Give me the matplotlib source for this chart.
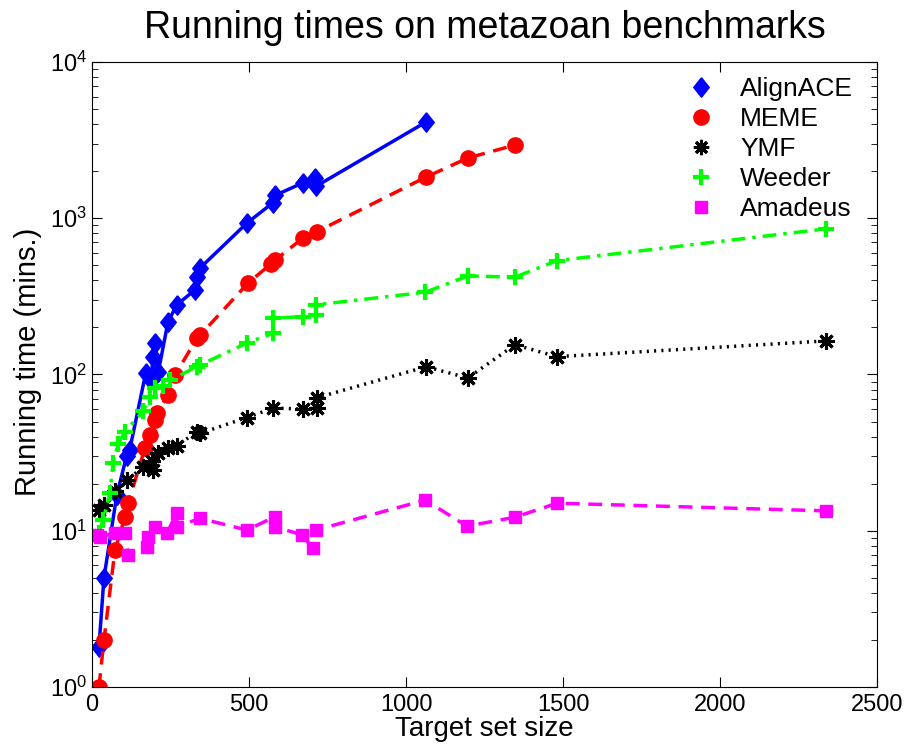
import matplotlib.pyplot as plt
from matplotlib.lines import Line2D

plt.rcParams['font.family'] = ['Liberation Sans', 'DejaVu Sans']

# AlignACE
x_align = [22, 38, 79, 110, 120, 171, 187, 195, 201, 211, 242, 270, 328, 334, 344,
           493, 577, 583, 673, 710, 713, 1064]
y_align = [1.8, 5.0, 17, 30, 33, 102, 92, 130, 158, 104, 217, 279, 348, 421, 480,
           930, 1260, 1400, 1690, 1800, 1600, 4130]

# MEME
x_meme = [22, 38, 73, 105, 115, 169, 185, 201, 207, 242, 264, 334, 344,
          497, 570, 583, 673, 716, 1064, 1197, 1347]
y_meme = [1.0, 2.0, 7.5, 12.3, 15, 34, 41, 51, 57, 74, 99, 170, 178,
          385, 510, 540, 750, 820, 1835, 2430, 2940]

# YMF
x_ymf = [22, 38, 73, 111, 162, 191, 195, 211, 242, 270, 334, 344, 493, 577,
         673, 716, 716, 1064, 1197, 1347, 1481, 2338]
y_ymf = [13.6, 14.6, 18, 21, 25.6, 28, 24.5, 31.5, 34, 35, 43, 42, 53, 61,
         60, 61, 71, 112, 95, 155, 130, 164]

# Weeder
x_weeder = [22, 35, 57, 67, 83, 105, 162, 185, 201, 226, 248, 334, 344, 493,
            577, 577, 673, 713, 713, 1061, 1197, 1347, 1481, 2338]
y_weeder = [9.7, 11.7, 17.5, 27, 36, 43, 58, 72, 82, 85, 92, 112, 115, 159,
            184, 230, 234, 240, 279, 336, 427, 420, 535, 855]

# Amadeus
x_amadeus = [16, 25, 73, 105, 115, 175, 178, 201, 239, 270, 270, 344, 493, 583,
             583, 669, 704, 713, 1061, 1194, 1347, 1481, 2338]
y_amadeus = [9.4, 9.1, 9.7, 9.7, 7.0, 7.9, 9.1, 10.6, 9.7, 13, 10.6, 12, 10.1, 12.3,
             10.6, 9.4, 7.7, 10.1, 15.7, 10.7, 12.2, 15, 13.4]

names = ['AlignACE', 'MEME', 'YMF', 'Weeder', 'Amadeus']

fig = plt.figure(figsize=(9.14, 7.54), dpi=100)
ax = fig.add_axes([0.1007, 0.0889, 0.8588, 0.8289])

lw = 2.5
star = (8, 2, 0)
diamond = [(0, 1), (0.8, 0), (0, -1), (-0.8, 0), (0, 1)]
ax.plot(x_align, y_align, color='#0000ff', linestyle='-', lw=lw,
        marker=diamond, markersize=14)
ax.plot(x_meme, y_meme, color='#ff0000', linestyle=(0, (4, 2.5)), lw=lw,
        marker='o', markersize=11)
ax.plot(x_ymf, y_ymf, color='black', linestyle=(0, (0.6, 1.5)), lw=lw,
        marker=star, markersize=12, markeredgewidth=2.2)
ax.plot(x_weeder, y_weeder, color='#00ff00', linestyle=(0, (4, 2, 1, 2)), lw=lw,
        marker='+', markersize=11, markeredgewidth=3)
ax.plot(x_amadeus, y_amadeus, color='#ff00ff', linestyle=(0, (4, 2.5)), lw=lw,
        marker='s', markersize=9)

ax.set_yscale('log')
ax.set_xlim(0, 2500)
ax.set_ylim(1, 1e4)
ax.set_xticks([0, 500, 1000, 1500, 2000, 2500])

ax.tick_params(which='both', direction='in', top=True, right=True, labelsize=17)
ax.tick_params(which='major', length=7)
ax.tick_params(which='minor', length=4)
ax.tick_params(axis='x', pad=5)

ax.set_title('Running times on metazoan benchmarks', fontsize=27, pad=17)
ax.set_xlabel('Target set size', fontsize=20, labelpad=0)
ax.set_ylabel('Running time (mins.)', fontsize=21, labelpad=2)
ax.yaxis.set_label_coords(-0.064, 0.52)

handles = [
    Line2D([], [], color='#0000ff', marker=diamond, linestyle='none', markersize=14),
    Line2D([], [], color='#ff0000', marker='o', linestyle='none', markersize=11),
    Line2D([], [], color='black', marker=star, linestyle='none', markersize=11,
           markeredgewidth=2.2),
    Line2D([], [], color='#00ff00', marker='+', linestyle='none', markersize=11,
           markeredgewidth=3),
    Line2D([], [], color='#ff00ff', marker='s', linestyle='none', markersize=9),
]
ax.legend(handles, names, loc='upper right', frameon=False, fontsize=19,
          handlelength=1.0, handletextpad=1.0, labelspacing=0.23,
          bbox_to_anchor=(1.0, 1.014))

fig.savefig('out.png')
